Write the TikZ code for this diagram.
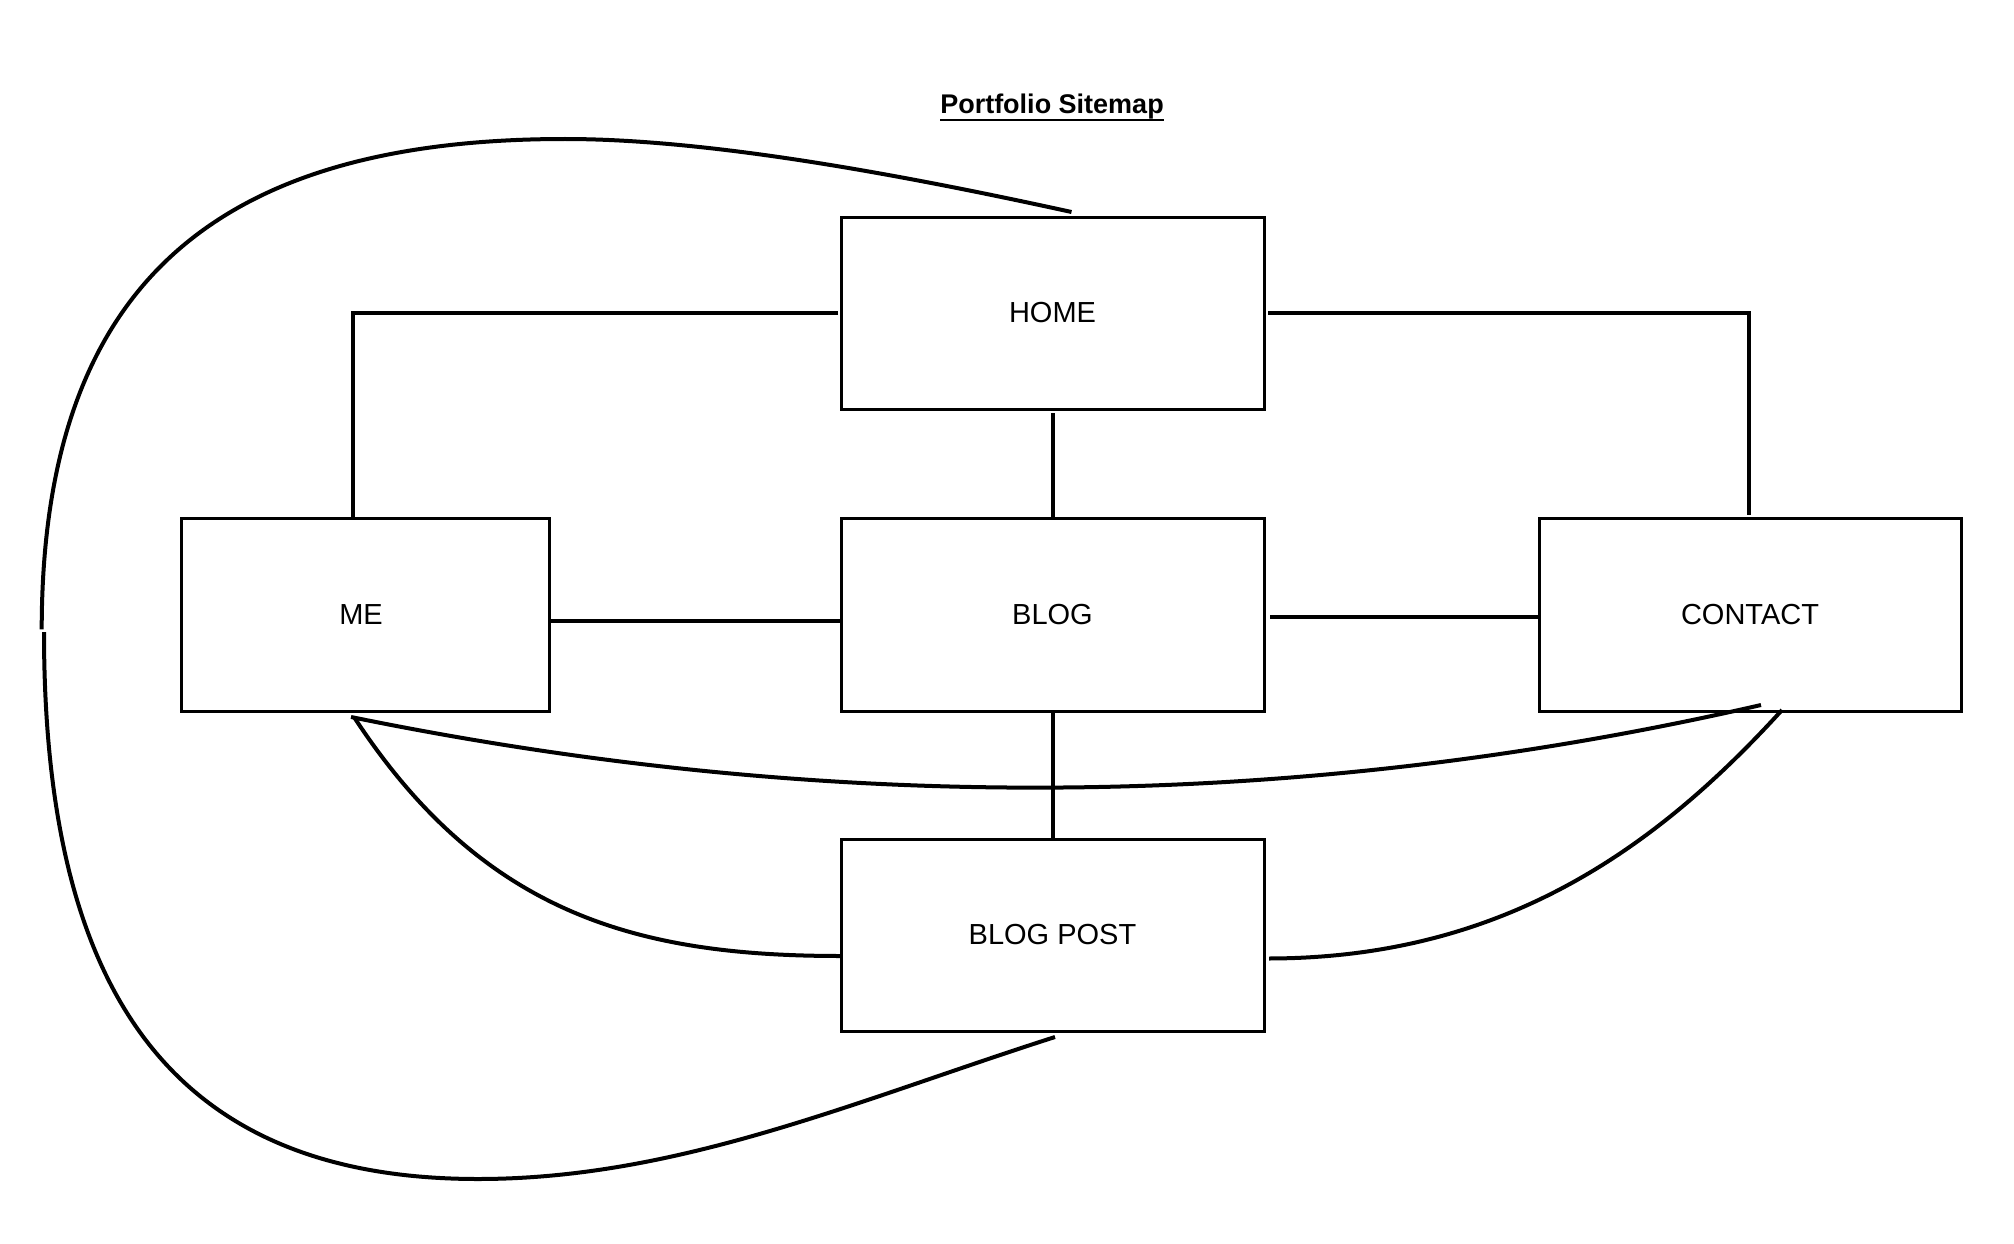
\documentclass[tikz,border=0pt]{standalone}
\usepackage{fontspec}
\setmainfont{Liberation Sans}
\tikzset{
  box/.style={draw, line width=3pt, rectangle, inner sep=0pt, outer sep=0pt,
    minimum width=423pt, minimum height=192pt, font=\fontsize{29}{34}\selectfont},
  conn/.style={line width=4pt},
}
\begin{document}
\begin{tikzpicture}[x=1pt,y=-1pt]
\useasboundingbox (0,0) rectangle (2014,1244);
\fill[white] (0,0) rectangle (2014,1244);
% title
\node[anchor=base, inner sep=0pt, font=\fontsize{27}{32}\selectfont\bfseries] (title) at (1052,114) {Portfolio Sitemap};
\draw[line width=2pt] ([yshift=-6pt]title.base west) -- ([yshift=-6pt]title.base east);
% boxes
\node[box] (home) at (1052.5,313) {HOME};
\node[box, minimum width=368pt, minimum height=193pt] (me) at (365,614.5) {\hspace*{-8pt}ME};
\node[box, minimum height=193pt] (blog) at (1052.5,614.5) {BLOG};
\node[box, minimum width=422pt, minimum height=193pt] (contact) at (1750,614.5) {CONTACT};
\node[box] (post) at (1052.5,935) {BLOG POST};
% straight connectors
\draw[conn] ([xshift=-3pt]home.west) -| ([xshift=-12pt]me.north);
\draw[conn] ([xshift=4pt]home.east) -| ([xshift=-1pt,yshift=3pt]contact.north);
\draw[conn] ([yshift=-4pt]home.south) -- (blog.north);
\draw[conn] ([yshift=-6.5pt]me.east) -- ([yshift=-6.5pt]blog.west);
\draw[conn] ([xshift=6pt,yshift=-2pt]blog.east) -- ([yshift=-2pt]contact.west);
\draw[conn] (blog.south) -- (post.north);
% big loop
\coordinate (loopA) at (41.7,629.3);
\coordinate (loopB) at (44,632);
\draw[conn] ([xshift=19pt,yshift=5pt]home.north) .. controls (880,170) and (700,139) .. (565,139)
  .. controls (210,139) and (42,290) .. (loopA);
\draw[conn] (loopB) .. controls (44,990) and (170,1179) .. (478,1179)
  .. controls (678,1179) and (855,1101) .. ([xshift=2.5pt,yshift=-6pt]post.south);
% curved connectors
\draw[conn] ([xshift=-14pt,yshift=-6pt]me.south) .. controls (830,815) and (1300,811) .. ([xshift=11pt,yshift=6pt]contact.south);
\draw[conn] ([xshift=-11pt,yshift=-6pt]me.south) .. controls (484,916) and (640,956) .. ([yshift=-21pt]post.west);
\draw[conn] ([xshift=32pt,yshift=1pt]contact.south) .. controls (1652,853) and (1499,958) .. ([xshift=5pt,yshift=-23.5pt]post.east);
\end{tikzpicture}
\end{document}
